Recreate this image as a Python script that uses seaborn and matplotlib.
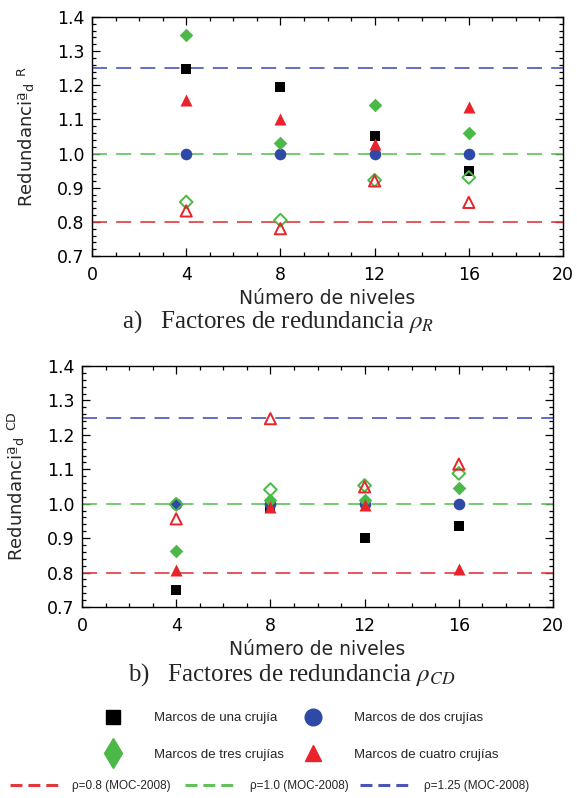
import matplotlib
matplotlib.use("Agg")
import matplotlib.pyplot as plt
from matplotlib.lines import Line2D
from matplotlib.ticker import MultipleLocator, FormatStrFormatter
import seaborn as sns
import pandas as pd

# datos
niveles = [4, 8, 12, 16]

# a) factores de redundancia rho_R
r_una = [1.247, 1.194, 1.052, 0.950]
r_dos = [1.0, 1.0, 1.0, 1.0]
r_tres = [1.346, 1.030, 1.143, 1.061]
r_cuatro = [1.157, 1.101, 1.028, 1.135]
r_tres_ab = [0.858, 0.805, 0.922, 0.930]
r_cuatro_ab = [0.832, 0.780, 0.920, 0.857]

# b) factores de redundancia rho_CD
cd_una = [0.748, 0.988, 0.900, 0.935]
cd_dos = [1.0, 1.0, 1.0, 1.0]
cd_tres = [0.863, 1.010, 1.012, 1.047]
cd_cuatro = [0.807, 0.990, 0.996, 0.810]
cd_tres_ab = [0.998, 1.041, 1.053, 1.088]
cd_cuatro_ab = [0.956, 1.247, 1.049, 1.115]

limites = [0.8, 1.0, 1.25]
limites_lbl = ['ρ=0.8 (MOC-2008)', 'ρ=1.0 (MOC-2008)', 'ρ=1.25 (MOC-2008)']
series_lbl = ['Marcos de una crujía', 'Marcos de dos crujías',
              'Marcos de tres crujías', 'Marcos de cuatro crujías']

NEGRO = '#000000'
AZUL = '#2f4aa6'
VERDE = '#4cb848'
ROJO = '#e8232a'
lim_colors = ['#e0393c', '#62c15a', '#4a55b5']

sns.set_style("ticks")
plt.rcParams['font.family'] = ['DejaVu Sans']
plt.rcParams['mathtext.fontset'] = 'stix'

W, H = 577, 798
fig = plt.figure(figsize=(W / 100, H / 100), dpi=100)
ax_a = fig.add_axes([92 / W, 1 - 256 / H, 471 / W, 239 / H])
ax_b = fig.add_axes([82 / W, 1 - 607 / H, 471 / W, 241 / H])


def draw_panel(ax, una, dos, tres, cuatro, tres_ab, cuatro_ab, ylab):
    for val, c in zip(limites, lim_colors):
        ax.axhline(val, color=c, lw=1.2, ls=(0, (9, 5.5)), zorder=1)

    df = pd.DataFrame({'n': niveles, 'una': una, 'dos': dos, 'tres': tres,
                       'cuatro': cuatro, 'tres_ab': tres_ab, 'cuatro_ab': cuatro_ab})
    sns.scatterplot(data=df, x='n', y='una', marker='s', s=52, color=NEGRO,
                    edgecolor=NEGRO, linewidth=0, ax=ax, zorder=3)
    sns.scatterplot(data=df, x='n', y='dos', marker='o', s=70, color=AZUL,
                    edgecolor=AZUL, linewidth=0, ax=ax, zorder=3)
    sns.scatterplot(data=df, x='n', y='tres', marker='D', s=48, color=VERDE,
                    edgecolor=VERDE, linewidth=0, ax=ax, zorder=3)
    sns.scatterplot(data=df, x='n', y='cuatro', marker='^', s=75, color=ROJO,
                    edgecolor=ROJO, linewidth=0, ax=ax, zorder=3)
    sns.scatterplot(data=df, x='n', y='tres_ab', marker='D', s=42, facecolor='none',
                    edgecolor=VERDE, linewidth=1.4, ax=ax, zorder=4)
    sns.scatterplot(data=df, x='n', y='cuatro_ab', marker='^', s=65, facecolor='none',
                    edgecolor=ROJO, linewidth=1.4, ax=ax, zorder=4)

    ax.set_xlim(0, 20)
    ax.set_ylim(0.7, 1.4)
    ax.xaxis.set_major_locator(MultipleLocator(4))
    ax.xaxis.set_minor_locator(MultipleLocator(1))
    ax.yaxis.set_major_locator(MultipleLocator(0.1))
    ax.yaxis.set_minor_locator(MultipleLocator(0.02))
    ax.yaxis.set_major_formatter(FormatStrFormatter('%.1f'))
    ax.tick_params(which='both', direction='in', top=True, right=True,
                   labelsize=12.5, colors='black', width=0.9)
    ax.tick_params(which='major', length=6)
    ax.tick_params(which='minor', length=3)
    ax.tick_params(axis='x', which='major', pad=7)
    ax.tick_params(axis='y', which='major', pad=5.5)
    for sp in ax.spines.values():
        sp.set_visible(True)
        sp.set_color('black')
        sp.set_linewidth(1.0)
    ax.set_xlabel('Número de niveles', fontsize=13.5, labelpad=4)
    ax.set_ylabel(ylab, fontsize=13, labelpad=14)


draw_panel(ax_a, r_una, r_dos, r_tres, r_cuatro, r_tres_ab, r_cuatro_ab,
           r'Redundanciª$_{\mathregular{d}}$ $^{\mathregular{R}}$')
draw_panel(ax_b, cd_una, cd_dos, cd_tres, cd_cuatro, cd_tres_ab, cd_cuatro_ab,
           r'Redundanciª$_{\mathregular{d}}$ $^{\mathregular{CD}}$')

serif = ['Liberation Serif', 'DejaVu Serif']
fig.text(278 / W, 1 - 322 / H, r'a)   Factores de redundancia $\rho_R$',
         ha='center', va='center', fontsize=18, family=serif)
fig.text(292 / W, 1 - 675 / H, r'b)   Factores de redundancia $\rho_{CD}$',
         ha='center', va='center', fontsize=18, family=serif)

# leyendas inferiores
FS = 9.5
FS_LIN = 8.5


def add_leg(handles, labels, x_px, y_px, hl, htp, size, ls=1.85):
    fig.legend(handles, labels, loc='center left',
               bbox_to_anchor=(x_px / W, 1 - y_px / H), frameon=False,
               prop={'family': ['Liberation Sans', 'DejaVu Sans'], 'size': size},
               handlelength=hl, handletextpad=htp,
               borderaxespad=0, borderpad=0, labelspacing=ls)


em = FS * 100 / 72
col1 = [Line2D([], [], ls='none', marker='s', ms=10, color=NEGRO),
        Line2D([], [], ls='none', marker='d', ms=15, color=VERDE)]
col2 = [Line2D([], [], ls='none', marker='o', ms=12, color=AZUL),
        Line2D([], [], ls='none', marker='^', ms=12, color=ROJO)]
add_leg(col1, [series_lbl[0], series_lbl[2]], 113 - em, 736.5, 2, 2.1, FS)
add_leg(col2, [series_lbl[1], series_lbl[3]], 313 - em, 736.5, 2, 2.1, FS)

em_l = FS_LIN * 100 / 72
for lbl, c, x0, x_txt in zip(limites_lbl, lim_colors, [10, 185, 360], [72, 250, 424]):
    h = Line2D([], [], color=c, lw=2.2, ls=(0, (3.9, 1.96)))
    add_leg([h], [lbl], x0, 786, 48 / em_l, (x_txt - x0 - 48) / em_l, FS_LIN)

fig.savefig('out.png', dpi=100)
